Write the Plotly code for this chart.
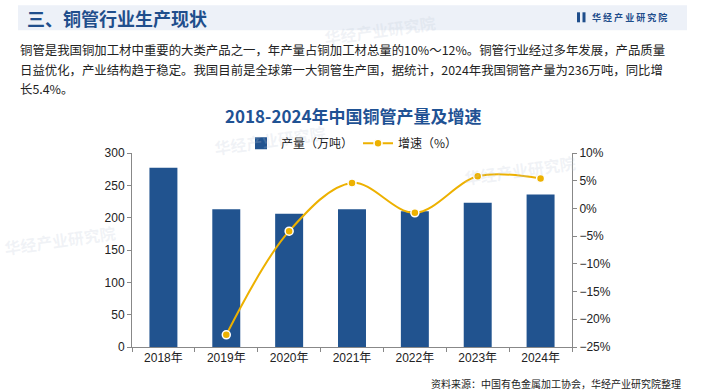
import plotly.graph_objects as go

years = ["2018年", "2019年", "2020年", "2021年", "2022年", "2023年", "2024年"]
production = [277, 213, 206, 213, 210, 223, 236]
growth = [None, -22.8, -4.1, 4.6, -0.8, 5.8, 5.4]

header_title = "三、铜管行业生产现状"
logo_text = "华 经 产 业 研 究 院"
para_lines = [
    "铜管是我国铜加工材中重要的大类产品之一，年产量占铜加工材总量的10%～12%。铜管行业经过多年发展，产品质量",
    "日益优化，产业结构趋于稳定。我国目前是全球第一大铜管生产国，据统计，2024年我国铜管产量为236万吨，同比增",
    "长5.4%。",
]
chart_title = "2018-2024年中国铜管产量及增速"
source_text = "资料来源：中国有色金属加工协会，华经产业研究院整理"

FONT = "Liberation Sans, Noto Sans CJK SC, sans-serif"
CJK = "Noto Sans CJK SC, sans-serif"
BLUE = "#21538F"
GOLD = "#EDB100"

W, H = 705, 392
L, R, T, B = 132, 572, 152.7, 346.7


def px(x):
    return (x - L) / (R - L)


def py(y):
    return (B - y) / (B - T)


fig = go.Figure()
fig.add_trace(go.Bar(
    x=years, y=production, name="产量（万吨）",
    marker=dict(color=BLUE, line=dict(width=0)),
    yaxis="y",
))
fig.add_trace(go.Scatter(
    x=years, y=growth, name="增速（%）", yaxis="y2",
    mode="lines+markers",
    line=dict(color=GOLD, width=2, shape="spline", smoothing=1.0),
    marker=dict(color=GOLD, size=8, line=dict(color="white", width=1.5)),
    connectgaps=False,
))

fig.update_layout(
    width=W, height=H,
    paper_bgcolor="white", plot_bgcolor="rgba(0,0,0,0)",
    margin=dict(l=L, r=W - R, t=T, b=H - B, pad=0, autoexpand=False),
    font=dict(family=FONT, size=12, color="#222"),
    bargap=0.555,
    showlegend=True,
    legend=dict(orientation="h", x=0.5, xanchor="center", y=py(143), yanchor="middle",
                font=dict(family=CJK, size=12, color="#222"),
                itemwidth=30, traceorder="normal", bgcolor="rgba(0,0,0,0)"),
    xaxis=dict(
        type="category", showgrid=False, showline=True, linecolor="#888", linewidth=1,
        ticks="outside", tickson="boundaries", ticklen=4, tickcolor="#888",
        tickfont=dict(family=FONT, size=12, color="#222"),
    ),
    yaxis=dict(
        range=[0, 300], dtick=50, showgrid=False, showline=True, linecolor="#888",
        linewidth=1, ticks="outside", ticklen=4, tickcolor="#888", zeroline=False,
        tickfont=dict(family=FONT, size=12, color="#222"),
    ),
    yaxis2=dict(
        range=[-25, 10], dtick=5, overlaying="y", side="right", showgrid=False,
        showline=True, linecolor="#888", linewidth=1, ticks="outside", ticklen=4,
        tickcolor="#888", ticksuffix="%", zeroline=False,
        tickfont=dict(family=FONT, size=12, color="#222"),
    ),
)

shapes = [
    dict(type="rect", xref="paper", yref="paper", x0=px(18), x1=px(687), y0=py(30), y1=py(5),
         fillcolor="#EDF1F8", line=dict(width=0), layer="below"),
    dict(type="rect", xref="paper", yref="paper", x0=px(577), x1=px(580), y0=py(22), y1=py(12),
         fillcolor="#1F4E8C", line=dict(width=0)),
    dict(type="rect", xref="paper", yref="paper", x0=px(582.5), x1=px(585.5), y0=py(22), y1=py(12),
         fillcolor="#1F4E8C", line=dict(width=0)),
]
fig.update_layout(shapes=shapes)

ann = []
ann.append(dict(text="<b>" + header_title + "</b>", x=px(25), y=py(17.5), xref="paper", yref="paper",
                xanchor="left", yanchor="middle", showarrow=False,
                font=dict(family=CJK, size=18, color="#1F4E8C")))
ann.append(dict(text="<b>" + logo_text + "</b>", x=px(590), y=py(17), xref="paper", yref="paper",
                xanchor="left", yanchor="middle", showarrow=False,
                font=dict(family=CJK, size=9, color="#1F4E8C")))
for line, yy in zip(para_lines, [50, 70, 89]):
    ann.append(dict(text=line, x=px(18), y=py(yy), xref="paper", yref="paper",
                    xanchor="left", yanchor="middle", showarrow=False,
                    font=dict(family=CJK, size=12.4, color="#222")))
ann.append(dict(text="<b>" + chart_title + "</b>", x=px(353), y=py(115), xref="paper", yref="paper",
                xanchor="center", yanchor="middle", showarrow=False,
                font=dict(family=CJK, size=17, color="#1F5294")))
ann.append(dict(text=source_text, x=px(683), y=py(383), xref="paper", yref="paper",
                xanchor="right", yanchor="middle", showarrow=False,
                font=dict(family=CJK, size=10, color="#222")))
# faint watermarks
for (wx, wy) in [(520, 170), (270, 140), (60, 240), (380, 30)]:
    ann.append(dict(text="<b>华经产业研究院</b>", x=px(wx), y=py(wy), xref="paper", yref="paper",
                    xanchor="center", yanchor="middle", showarrow=False, textangle=-8,
                    font=dict(family=CJK, size=16, color="rgba(190,200,215,0.22)")))
fig.update_layout(annotations=ann)

fig.write_html("out.html", config={"displayModeBar": False},
               post_script="document.body.style.margin='0';document.body.style.overflow='hidden';")
